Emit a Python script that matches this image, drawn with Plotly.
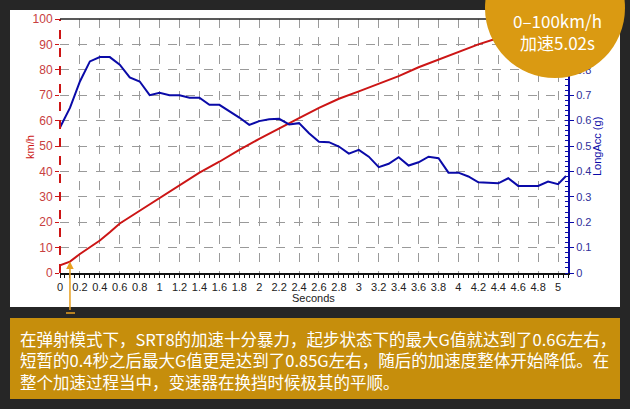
import plotly.graph_objects as go

# ---- data ----
speed_t = [0, 0.1, 0.2, 0.3, 0.4, 0.5, 0.6, 0.8, 1.0, 1.2, 1.4, 1.6, 1.8, 2.0, 2.2, 2.4,
           2.6, 2.8, 3.0, 3.2, 3.4, 3.6, 3.8, 4.0, 4.2, 4.4, 4.6, 4.8, 5.02]
speed_kmh = [3, 4.5, 7.5, 10.3, 12.8, 16, 19.5, 24.5, 29.5, 34.5, 39.5, 43.8, 48.5, 52.8, 57, 61,
             65, 68.6, 71.5, 74.5, 77.5, 81, 84, 87.3, 90, 92.5, 95, 97.5, 100]

acc_t = [0, 0.1, 0.2, 0.3, 0.4, 0.5, 0.6, 0.7, 0.8, 0.9, 1.0, 1.1, 1.2, 1.3, 1.4, 1.5, 1.6,
         1.7, 1.8, 1.9, 2.0, 2.1, 2.2, 2.3, 2.4, 2.5, 2.6, 2.7, 2.8, 2.9, 3.0, 3.1, 3.2, 3.3,
         3.4, 3.5, 3.6, 3.7, 3.8, 3.9, 4.0, 4.1, 4.2, 4.3, 4.4, 4.5, 4.6, 4.7, 4.8, 4.9, 5.0, 5.08]
acc_g = [0.573, 0.65, 0.754, 0.833, 0.85, 0.85, 0.82, 0.77, 0.754, 0.70, 0.71, 0.70, 0.70,
         0.69, 0.69, 0.662, 0.662, 0.638, 0.612, 0.583, 0.598, 0.605, 0.607, 0.585, 0.59,
         0.55, 0.517, 0.515, 0.498, 0.47, 0.485, 0.458, 0.417, 0.43, 0.456, 0.423, 0.436,
         0.458, 0.452, 0.395, 0.395, 0.38, 0.357, 0.355, 0.353, 0.373, 0.343, 0.343, 0.343,
         0.36, 0.35, 0.382]

acc_ticks = [0, 0.1, 0.2, 0.3, 0.4, 0.5, 0.6, 0.7, 0.8]
badge_lines = ["0–100km/h", "加速5.02s"]
caption_lines = [
    "在弹射模式下，SRT8的加速十分暴力，起步状态下的最大G值就达到了0.6G左右，",
    "短暂的0.4秒之后最大G值更是达到了0.85G左右，随后的加速度整体开始降低。在",
    "整个加速过程当中，变速器在换挡时候极其的平顺。",
]
marker_t, marker_v = 0.1, 4.5

# ---- geometry helpers (pixel -> paper) ----
W, H = 630, 409
L, R, T, B = 60, 62, 19, 136
PW, PH = W - L - R, H - T - B


def px(x):
    return (x - L) / PW


def py(y):
    return (H - B - y) / PH


BG = "#262626"
RED = "#CC1515"
BLUE = "#0A0AA8"
GOLD_C = "#DA9A12"
GOLD_B = "#C68E0C"
FONT = "Arial, Liberation Sans, sans-serif"
CJK = "Noto Sans CJK SC, sans-serif"

fig = go.Figure()
fig.add_trace(go.Scatter(x=speed_t, y=speed_kmh, mode="lines",
                         line=dict(color=RED, width=2), yaxis="y", hoverinfo="skip"))
fig.add_trace(go.Scatter(x=acc_t, y=acc_g, mode="lines",
                         line=dict(color=BLUE, width=2), yaxis="y2", hoverinfo="skip"))

shapes = [
    dict(type="rect", xref="paper", yref="paper", x0=px(10), x1=px(620), y0=py(307), y1=py(10),
         fillcolor="white", line=dict(width=0), layer="below"),
    dict(type="line", xref="paper", yref="paper", x0=0, x1=0, y0=0, y1=1,
         line=dict(color=RED, width=2, dash="dash"), layer="above"),
    dict(type="line", xref="paper", yref="paper", x0=0, x1=1, y0=1, y1=1,
         line=dict(color="#222222", width=1.5), layer="above"),
    dict(type="rect", xref="paper", yref="paper", x0=px(10), x1=px(620), y0=py(399), y1=py(318),
         fillcolor=GOLD_B, line=dict(width=0), layer="above"),
    dict(type="line", xref="paper", yref="paper", x0=px(66), x1=px(75), y0=py(313), y1=py(313),
         line=dict(color="#E8A020", width=1.5), layer="above"),
    dict(type="circle", xref="paper", yref="paper", x0=px(485), x1=px(625), y0=py(78), y1=py(-62),
         fillcolor=GOLD_C, line=dict(width=0), layer="above"),
]


def note(x, y, text, font, **kw):
    d = dict(x=px(x), y=py(y), xref="paper", yref="paper", text=text, showarrow=False,
             xanchor="center", yanchor="middle", font=font)
    d.update(kw)
    return d


annotations = [
    dict(x=marker_t, y=marker_v, xref="x", yref="y", ax=0, ay=50, axref="pixel", ayref="pixel",
         text="", showarrow=True, arrowhead=2, arrowsize=1, arrowwidth=1.5, arrowcolor="#E8A020"),
    note(30, 147, "km/h", dict(family=FONT, size=11, color=RED), textangle=-90),
    note(597, 147, "LongAcc (g)", dict(family=FONT, size=11, color=BLUE), textangle=-90),
    note(313, 298, "Seconds", dict(family=FONT, size=11, color="#222222")),
    note(557, 31, "<br>".join(badge_lines), dict(family=CJK, size=17, color="white"),
         align="center"),
    note(18, 360, "<br>".join(caption_lines), dict(family=CJK, size=16.5, color="white"),
         xanchor="left", align="left"),
]

fig.update_layout(
    width=W, height=H, autosize=False,
    margin=dict(l=L, r=R, t=T, b=B, pad=0),
    paper_bgcolor=BG, plot_bgcolor="white",
    showlegend=False,
    shapes=shapes, annotations=annotations,
    xaxis=dict(range=[0, 5.1], dtick=0.2, tick0=0, showgrid=True, gridcolor="#9a9a9a",
               griddash="dash", gridwidth=1, zeroline=False,
               showline=True, linecolor="#111111", linewidth=2,
               ticks="outside", ticklen=3, tickcolor="#111111",
               minor=dict(dtick=0.05, ticks="outside", ticklen=3, tickcolor="#111111"),
               tickfont=dict(family=FONT, size=11, color="#222222")),
    yaxis=dict(range=[0, 100], dtick=10, showgrid=True, gridcolor="#9a9a9a",
               griddash="dash", gridwidth=1, zeroline=False, showline=False,
               ticks="outside", ticklen=4, tickcolor=RED,
               tickfont=dict(family=FONT, size=12, color="#C84040")),
    yaxis2=dict(range=[0, 1], tickmode="array", tickvals=acc_ticks, overlaying="y", side="right",
                showgrid=False, zeroline=False, showline=True, linecolor=BLUE, linewidth=2,
                ticks="outside", ticklen=4, tickcolor=BLUE,
                minor=dict(tickmode="linear", tick0=0, dtick=0.02, ticks="inside", ticklen=3,
                           tickcolor=BLUE),
                tickfont=dict(family=FONT, size=11, color="#30309A")),
)

fig.write_html("out.html", config={"displayModeBar": False},
               post_script="document.body.style.margin='0';document.body.style.background='#262626';")
